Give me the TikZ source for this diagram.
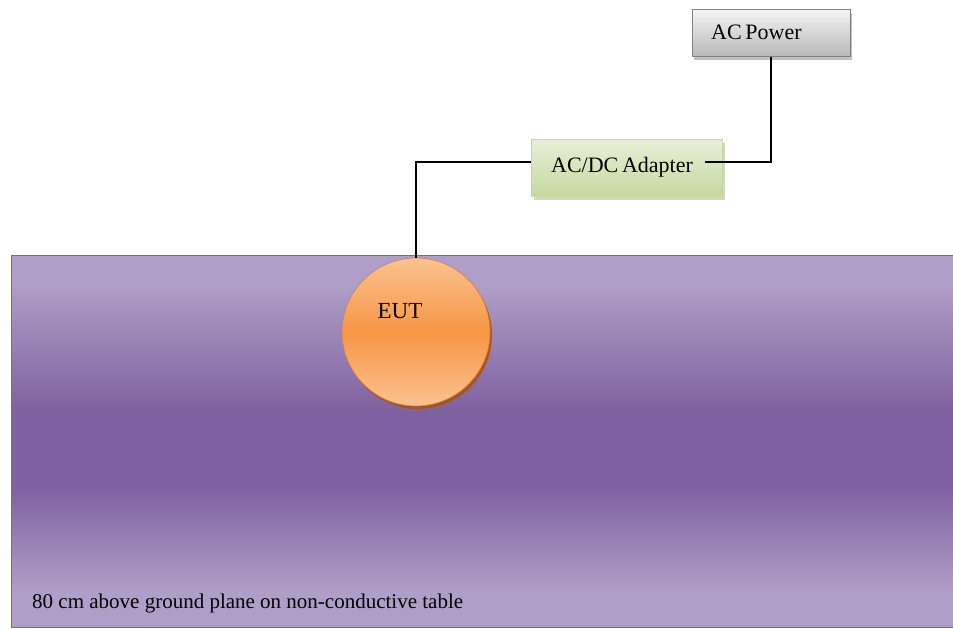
\documentclass[tikz,border=0pt]{standalone}
\usepackage{fontspec}
\setmainfont{Liberation Serif}
\usetikzlibrary{shadows}

\definecolor{tablelight}{HTML}{AF9EC7}
\definecolor{tabledark}{HTML}{7E61A0}
\definecolor{tableline}{HTML}{7E64A2}
\definecolor{eutlight}{HTML}{FAC28F}
\definecolor{eutmid}{HTML}{F79646}
\definecolor{eutline}{HTML}{E07A30}
\definecolor{eutshadow}{HTML}{A0521E}
\definecolor{adlight}{HTML}{E8EFD8}
\definecolor{addark}{HTML}{C5D89E}
\definecolor{pwlight}{HTML}{F4F4F4}
\definecolor{pwdark}{HTML}{B8B8B8}

\pgfdeclareverticalshading{tableshade}{100bp}{color(0bp)=(tablelight); color(30bp)=(tablelight);
	color(44bp)=(tabledark); color(54bp)=(tabledark); color(71bp)=(tablelight); color(100bp)=(tablelight)}

\tikzset{
  wire/.style={line width=1.4pt, black},
  boxtext/.style={font=\fontsize{22}{24}\selectfont, inner sep=0pt},
}

\begin{document}
\begin{tikzpicture}[x=1pt, y=-1pt]
\useasboundingbox (0,0) rectangle (953,629);

% table
\path (11,255) node (table) [anchor=north west, draw=tableline, line width=1.2pt,
		minimum width=950pt, minimum height=372pt, inner sep=0pt, shading=tableshade] {}
	(32,603) node (tabletext) [anchor=west, inner sep=0pt,
		font=\fontsize{21}{23}\selectfont] {80 cm above ground plane on non-conductive table}
;

% boxes
\path (771,33) node (power) [draw=gray, line width=1pt, minimum width=158pt, minimum height=47pt,
		top color=pwlight, bottom color=pwdark,
		drop shadow={shadow xshift=2pt, shadow yshift=-3pt, fill=gray, opacity=0.5}] {}
	(711,32) node (powertext) [boxtext, anchor=west] {AC\,Power}
	(627,168) node (adapter) [draw=addark, line width=0.6pt, minimum width=191pt, minimum height=57pt,
		top color=adlight, bottom color=addark,
		drop shadow={shadow xshift=2pt, shadow yshift=-3pt, fill=gray, opacity=0.35}] {}
	(622,167) node (adaptertext) [boxtext] {AC/DC\,Adapter}
	(416,332) node (eut) [circle, draw=eutline, line width=0.6pt, minimum size=148pt, inner sep=0pt,
		top color=eutlight, bottom color=eutlight, middle color=eutmid,
		drop shadow={shadow xshift=2pt, shadow yshift=-3pt, fill=eutshadow, opacity=0.8}] {}
	(400,311) node (euttext) [boxtext, font=\fontsize{23}{25}\selectfont] {EUT}
;

\coordinate (adapterout) at (705,162);

% wires
\draw[wire] (power.south) -- (power.south |- adapterout) -- (adapterout);
\draw[wire] (adapter.west |- adapterout) -- (eut.north |- adapterout) -- (eut.north);

\end{tikzpicture}
\end{document}
